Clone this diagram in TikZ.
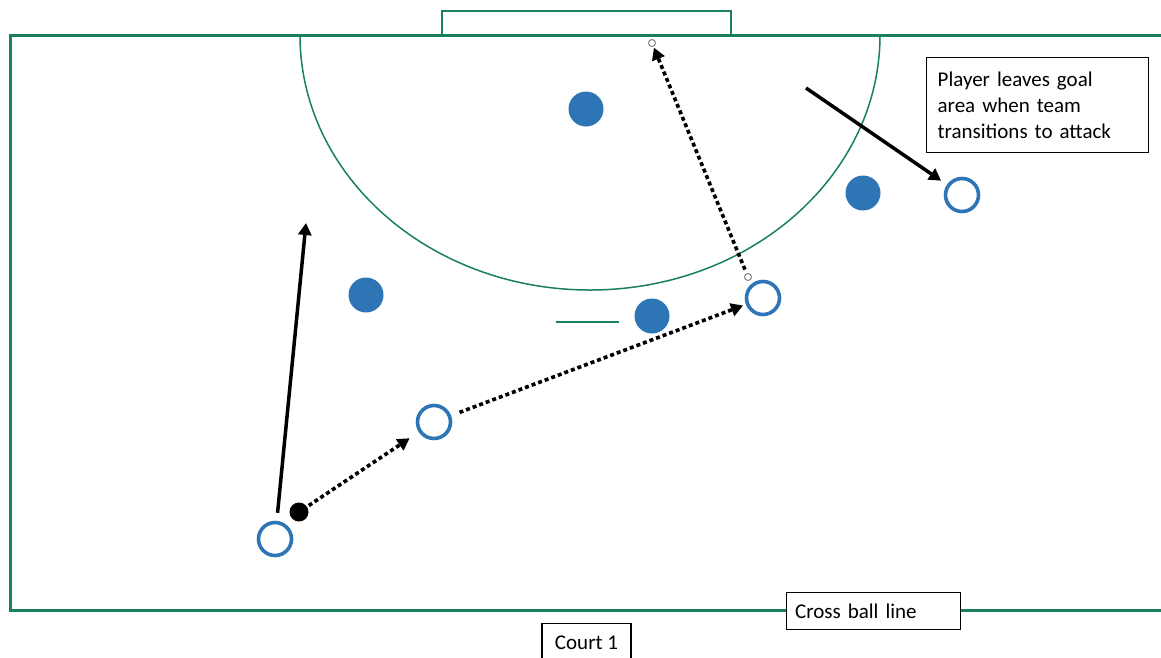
\documentclass[tikz,border=0pt]{standalone}
\usepackage{fontspec}
\setmainfont{Carlito}
\usetikzlibrary{arrows.meta}
\definecolor{courtgreen}{RGB}{24,128,90}
\definecolor{pblue}{RGB}{46,117,182}
\begin{document}
\begin{tikzpicture}[x=1pt,y=-1pt,
  courtline/.style={draw=courtgreen,line width=3pt},
  thinline/.style={draw=courtgreen,line width=1.8pt},
  arcline/.style={draw=courtgreen,line width=1.5pt},
  defender/.style={circle,fill=pblue,minimum size=35pt,inner sep=0pt},
  attacker/.style={circle,draw=pblue,line width=3.6pt,fill=white,minimum size=33pt,inner sep=0pt},
  ballstyle/.style={circle,fill=black,minimum size=19pt,inner sep=0pt},
  handle/.style={circle,draw=gray,fill=white,line width=1pt,minimum size=7pt,inner sep=0pt},
  tipstyle/.style={-{Triangle[length=12pt,width=13pt]}},
  solidarrow/.style={tipstyle,line width=3.5pt,black},
  dottedarrow/.style={tipstyle,line width=3.6pt,black,dash pattern=on 4pt off 3pt},
  labelbox/.style={draw=black,line width=1.3pt,fill=white,inner sep=0pt,font=\fontsize{21}{26}\selectfont}
]
\useasboundingbox (0,0) rectangle (1161,657);
\clip (0,0) rectangle (1161,657);
% court
\draw[courtline] (1175,35) -- (10,35) -- (10,610) -- (1175,610);
\draw[thinline] (442,35) -- (442,11) -- (731,11) -- (731,35);
\begin{scope}
  \clip (0,36) rectangle (1161,657);
  \draw[arcline] (590,35) ellipse [x radius=290pt, y radius=255pt];
\end{scope}
\draw[arcline] (556,322) -- (619,322);
% defenders
\node[defender] (d1) at (586,109) {};
\node[defender] (d2) at (366,295) {};
\node[defender] (d3) at (652,316) {};
\node[defender] (d4) at (863,193) {};
% attackers
\node[attacker] (a1) at (275,539) {};
\node[attacker] (a2) at (434,422) {};
\node[attacker] (a3) at (763,298) {};
\node[attacker] (a4) at (962,195) {};
\node[ballstyle] (ball) at (299,512) {};
% handles
\node[handle] (g1) at (748,277) {};
\node[handle] (g2) at (652,43) {};
% free ends
\coordinate (t1) at (306,223);
\coordinate (s2) at (806,88);
% arrows
\draw[solidarrow,shorten <=8pt] (a1) -- (t1);
\draw[solidarrow,shorten >=7pt] (s2) -- (a4);
\draw[dottedarrow,shorten <=2pt,shorten >=11pt] (ball) -- (a2);
\draw[dottedarrow,shorten <=9pt,shorten >=3pt] (a2) -- (a3);
\draw[dottedarrow,shorten <=4pt,shorten >=1pt] (g1) -- (g2);
% labels
\node[labelbox,anchor=north west,minimum width=222pt,minimum height=95pt,text width=200pt,align=left] (note) at (926,57)
  {Player leaves goal\\area when team\\transitions to attack};
\node[labelbox,anchor=north west,minimum width=174pt,minimum height=37pt,text width=157pt,align=left] (cross) at (786,592)
  {Cross ball line};
\node[labelbox,anchor=north,minimum width=89pt,minimum height=38pt] (court) at (586.5,623)
  {Court 1};
\end{tikzpicture}
\end{document}
